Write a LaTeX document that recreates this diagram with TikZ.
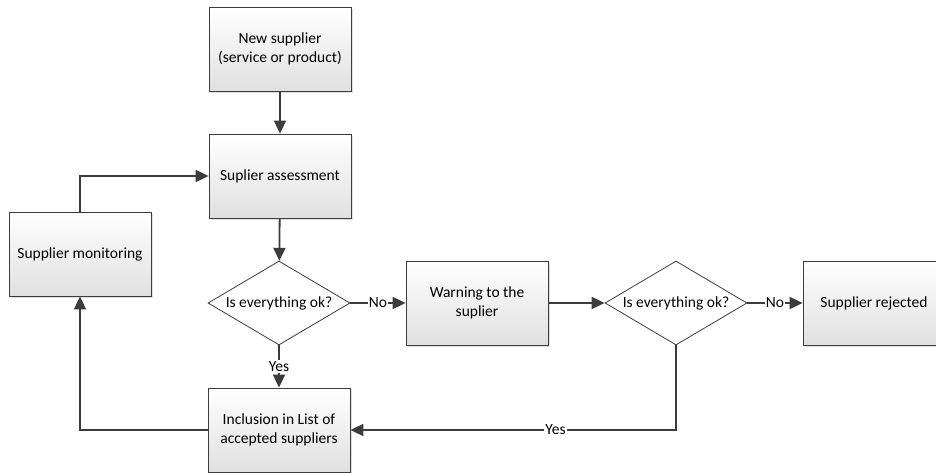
\documentclass[tikz,border=0pt]{standalone}
\usepackage{fontspec}
\setmainfont{Carlito}
\usetikzlibrary{shapes.geometric, arrows.meta, shadows}
\definecolor{linegray}{RGB}{60,60,60}
\definecolor{boxgray}{RGB}{224,224,224}

\begin{document}
\begin{tikzpicture}[x=1pt, y=-1pt,
  every node/.style={font=\fontsize{15.5}{19}\selectfont},
  box/.style={draw=linegray, line width=0.8pt, top color=white, bottom color=boxgray, minimum width=142pt, minimum height=84pt, align=center, drop shadow={opacity=0.25, shadow xshift=2pt, shadow yshift=-2pt}},
  decision/.style={diamond, draw=linegray, line width=0.8pt, fill=white, aspect=1.69, inner sep=0pt, minimum width=142pt, minimum height=84pt},
  conn/.style={draw=linegray, line width=1.8pt, -{Triangle[length=13pt, width=12pt]}},
  lbl/.style={fill=white, inner sep=1pt}
]
\useasboundingbox (0,0) rectangle (936,473);

% Main column
\node[box] (new) at (280,49) {New supplier\\(service or product)};
\node[box] (assess) at (280,176) {Suplier assessment};
\node[decision] (d1) at (279,303) {Is everything ok?};
\node[box] (incl) at (279,430) {Inclusion in List of\\accepted suppliers};

% Side boxes
\node[box] (mon) at (80,254) {Supplier monitoring};
\node[box] (warn) at (477,303) {Warning to the\\suplier};
\node[decision] (d2) at (676,303) {Is everything ok?};
\node[box] (rej) at (874,303) {Supplier rejected};

% Connections
\draw[conn] (new) -- (assess);
\draw[conn] (assess) -- (d1);
\draw[conn] (d1) -- node[lbl] {No} (warn);
\draw[conn] (warn) -- (d2);
\draw[conn] (d2) -- node[lbl] {No} (rej);
\draw[conn] (d1) -- node[lbl] {Yes} (incl);
\draw[conn] (d2) |- node[lbl, pos=0.685] {Yes} (incl);
\draw[conn] (incl) -| (mon);
\draw[conn] (mon) |- (assess);

\end{tikzpicture}
\end{document}
